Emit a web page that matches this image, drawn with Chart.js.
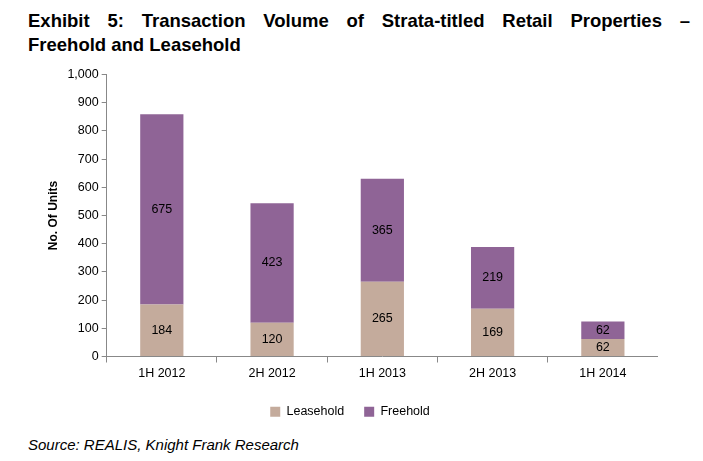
<!DOCTYPE html>
<html>
<head>
<meta charset="utf-8">
<script src="https://cdn.jsdelivr.net/npm/chart.js@4"></script>
<style>
  body { margin: 0; width: 703px; height: 461px; background: #fff; font-family: "Liberation Sans", Arial, sans-serif; position: relative; overflow: hidden; }
  #title { position: absolute; left: 28px; top: 9px; width: 662px; font-weight: bold; font-size: 18.5px; line-height: 24px; text-align: justify; color: #000; }
  #title span { display: block; text-align: justify; text-align-last: justify; }
  #source { position: absolute; left: 28px; top: 436px; font-style: italic; font-size: 15px; color: #000; }
  #wrap { position: absolute; left: 42px; top: 64px; width: 616px; height: 364px; }
</style>
</head>
<body>
<div id="title"><span>Exhibit 5: Transaction Volume of Strata-titled Retail Properties –</span>Freehold and Leasehold</div>
<div id="wrap"><canvas id="chart"></canvas></div>
<div id="source">Source: REALIS, Knight Frank Research</div>
<script>
const periods = ['1H 2012', '2H 2012', '1H 2013', '2H 2013', '1H 2014'];
const leasehold = [184, 120, 265, 169, 62];
const freehold = [675, 423, 365, 219, 62];
const yTicks = [0, 100, 200, 300, 400, 500, 600, 700, 800, 900, 1000];

const segmentLabels = {
    id: 'segmentLabels',
    afterDatasetsDraw(chart) {
        const ctx = chart.ctx;
        ctx.save();
        ctx.font = '12.5px "Liberation Sans", Arial, sans-serif';
        ctx.fillStyle = '#000';
        ctx.textAlign = 'center';
        ctx.textBaseline = 'middle';
        chart.data.datasets.forEach((ds, i) => {
            chart.getDatasetMeta(i).data.forEach((bar, j) => {
                ctx.fillText(ds.data[j], bar.x, (bar.y + bar.base) / 2);
            });
        });
        ctx.restore();
    }
};

new Chart(document.getElementById('chart').getContext('2d'), {
    type: 'bar',
    data: {
        labels: periods,
        datasets: [
            { label: 'Leasehold', data: leasehold, backgroundColor: '#c4ab9c', categoryPercentage: 0.8, barPercentage: 0.49 },
            { label: 'Freehold', data: freehold, backgroundColor: '#8f6496', categoryPercentage: 0.8, barPercentage: 0.49 }
        ]
    },
    options: {
        responsive: true,
        maintainAspectRatio: false,
        animation: false,
        layout: { padding: { top: 4, right: 0, left: 0, bottom: 0 } },
        plugins: {
            legend: {
                position: 'bottom',
                labels: { boxWidth: 10, boxHeight: 10, padding: 20, color: '#000', font: { size: 12.5, family: '"Liberation Sans", Arial, sans-serif' } }
            },
            tooltip: { enabled: false }
        },
        scales: {
            x: {
                stacked: true,
                grid: { display: true, drawOnChartArea: false, offset: true, tickLength: 6, color: '#888' },
                border: { color: '#888' },
                ticks: { color: '#000', font: { size: 12.5 }, padding: 4 }
            },
            y: {
                stacked: true,
                min: 0, max: 1000,
                afterBuildTicks: axis => { axis.ticks = yTicks.map(v => ({ value: v })); },
                grid: { display: true, drawOnChartArea: false, tickLength: 5, color: '#888' },
                border: { color: '#888' },
                ticks: { color: '#000', font: { size: 12.5 }, callback: v => v.toLocaleString('en-US') },
                title: { display: true, text: 'No. Of Units', color: '#000', font: { size: 12, weight: 'bold' } }
            }
        }
    },
    plugins: [segmentLabels]
});
</script>
</body>
</html>
